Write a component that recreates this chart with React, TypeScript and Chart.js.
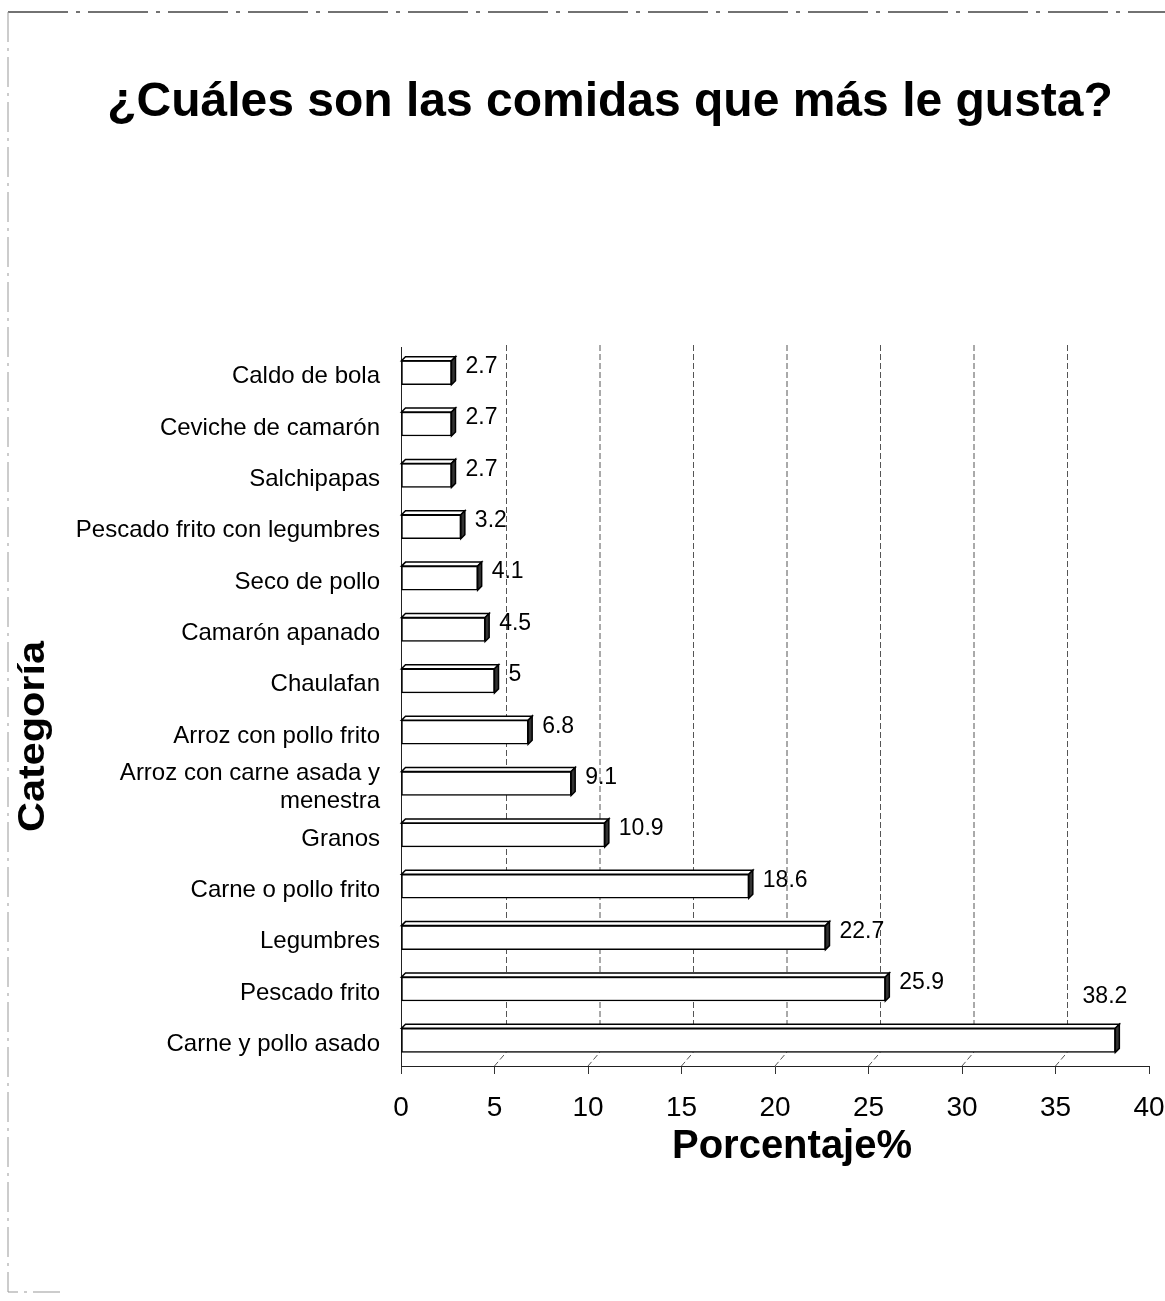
import React, { useEffect, useRef } from "react";
import { Chart, registerables } from "chart.js";

Chart.register(...registerables);

const categories: (string | string[])[] = [
  "Caldo de bola",
  "Ceviche de camarón",
  "Salchipapas",
  "Pescado frito con legumbres",
  "Seco de pollo",
  "Camarón apanado",
  "Chaulafan",
  "Arroz con pollo frito",
  ["Arroz con carne asada y", "menestra"],
  "Granos",
  "Carne o pollo frito",
  "Legumbres",
  "Pescado frito",
  "Carne y pollo asado",
];
const values = [2.7, 2.7, 2.7, 3.2, 4.1, 4.5, 5, 6.8, 9.1, 10.9, 18.6, 22.7, 25.9, 38.2];
const xTicks = [0, 5, 10, 15, 20, 25, 30, 35, 40];
const titleText = "¿Cuáles son las comidas que más le gusta?";
const xAxisTitle = "Porcentaje%";
const yAxisTitle = "Categoría";

const FONT = "Arial, 'Liberation Sans', Helvetica, sans-serif";
const DEPTH = 4;

const decorPlugin = {
  id: "decor",
  beforeDatasetsDraw(chart: any) {
    const { ctx, chartArea, scales } = chart;
    const x = scales.x;
    const dx = 12;
    const dy = 14;
    ctx.save();
    ctx.strokeStyle = "#555";
    ctx.lineWidth = 1;
    ctx.setLineDash([6, 3]);
    for (const v of xTicks) {
      if (v === xTicks[0] || v === xTicks[xTicks.length - 1]) continue;
      const px = x.getPixelForValue(v);
      ctx.beginPath();
      ctx.moveTo(px + dx, chartArea.top - 2);
      ctx.lineTo(px + dx, chartArea.bottom - dy);
      ctx.lineTo(px, chartArea.bottom);
      ctx.stroke();
    }
    ctx.restore();
  },
  afterDatasetsDraw(chart: any) {
    const { ctx, chartArea } = chart;
    const meta = chart.getDatasetMeta(0);
    ctx.save();
    meta.data.forEach((bar: any, i: number) => {
      const p = bar.getProps(["x", "y", "base", "height"], true);
      const xe = p.x;
      const base = p.base;
      const top = p.y - p.height / 2;
      const bottom = p.y + p.height / 2;
      ctx.setLineDash([]);
      ctx.lineWidth = 1.5;
      ctx.strokeStyle = "#000";
      // top face
      ctx.beginPath();
      ctx.moveTo(base, top);
      ctx.lineTo(base + DEPTH, top - DEPTH);
      ctx.lineTo(xe + DEPTH, top - DEPTH);
      ctx.lineTo(xe, top);
      ctx.closePath();
      ctx.fillStyle = "#fff";
      ctx.fill();
      ctx.stroke();
      // side face
      ctx.beginPath();
      ctx.moveTo(xe, top);
      ctx.lineTo(xe + DEPTH, top - DEPTH);
      ctx.lineTo(xe + DEPTH, bottom - DEPTH);
      ctx.lineTo(xe, bottom);
      ctx.closePath();
      ctx.fillStyle = "#333";
      ctx.fill();
      ctx.stroke();
      // value label
      const txt = String(values[i]);
      ctx.font = `23px ${FONT}`;
      ctx.fillStyle = "#000";
      ctx.textBaseline = "middle";
      ctx.textAlign = "left";
      const w = ctx.measureText(txt).width;
      let lx = xe + DEPTH + 10;
      let ly = p.y - 6;
      if (lx + w > chartArea.right) {
        lx = xe + DEPTH + 8 - w;
        ly = top - 32;
      }
      ctx.fillText(txt, lx, ly);
    });
    ctx.restore();
  },
  afterDraw(chart: any) {
    const { ctx, chartArea } = chart;
    ctx.save();
    ctx.fillStyle = "#000";
    // main title
    ctx.font = `bold 48px ${FONT}`;
    ctx.textAlign = "center";
    ctx.textBaseline = "alphabetic";
    ctx.fillText(titleText, 610, 116);
    // x axis title
    ctx.font = `bold 40px ${FONT}`;
    ctx.fillText(xAxisTitle, (chartArea.left + chartArea.right) / 2 + 17, 1158);
    // y axis title
    ctx.save();
    ctx.translate(44, (chartArea.top + chartArea.bottom) / 2 + 30);
    ctx.rotate(-Math.PI / 2);
    ctx.scale(1.15, 1);
    ctx.font = `bold 36px ${FONT}`;
    ctx.fillText(yAxisTitle, 0, 0);
    ctx.restore();
    // page border (scanned frame)
    ctx.strokeStyle = "#444";
    ctx.lineWidth = 1.5;
    ctx.setLineDash([60, 8, 4, 8]);
    ctx.beginPath();
    ctx.moveTo(8, 12);
    ctx.lineTo(1165, 12);
    ctx.stroke();
    ctx.strokeStyle = "#999";
    ctx.lineWidth = 1;
    ctx.setLineDash([30, 6, 3, 6]);
    ctx.beginPath();
    ctx.moveTo(8, 12);
    ctx.lineTo(8, 1292);
    ctx.lineTo(60, 1292);
    ctx.stroke();
    ctx.restore();
  },
};

export default function App() {
  const canvasRef = useRef<HTMLCanvasElement | null>(null);

  useEffect(() => {
    const canvas = canvasRef.current;
    if (!canvas) return;
    const chart = new Chart(canvas, {
      type: "bar",
      data: {
        labels: categories as any,
        datasets: [
          {
            data: values,
            backgroundColor: "#ffffff",
            borderColor: "#000000",
            borderWidth: 1.5,
            borderSkipped: false,
            barThickness: 24,
          },
        ],
      },
      options: {
        indexAxis: "y",
        responsive: false,
        animation: false,
        devicePixelRatio: 1,
        layout: { padding: { top: 347, right: 16, bottom: 0, left: 0 } },
        plugins: {
          legend: { display: false },
          tooltip: { enabled: false },
          title: { display: false },
        },
        scales: {
          x: {
            type: "linear",
            min: xTicks[0],
            max: xTicks[xTicks.length - 1],
            afterFit: (s: any) => {
              s.height = 235;
              s.paddingRight = 0;
              s.paddingLeft = 0;
            },
            afterBuildTicks: (s: any) => {
              s.ticks = xTicks.map((v) => ({ value: v }));
            },
            ticks: {
              font: { size: 28, family: FONT },
              color: "#000",
              padding: 17,
              maxRotation: 0,
              autoSkip: false,
            },
            grid: {
              display: true,
              drawOnChartArea: false,
              drawTicks: true,
              tickLength: 8,
              color: "#333",
            },
            border: { display: true, color: "#222", width: 1 },
          },
          y: {
            afterFit: (s: any) => {
              s.width = 401;
            },
            ticks: {
              font: { size: 24, family: FONT, lineHeight: 1.15 },
              color: "#000",
              padding: 13,
              autoSkip: false,
              labelOffset: 4,
            },
            grid: { display: false },
            border: { display: true, color: "#222", width: 1 },
          },
        },
      } as any,
      plugins: [decorPlugin],
    });
    return () => chart.destroy();
  }, []);

  return (
    <div style={{ position: "fixed", left: 0, top: 0, width: 1165, height: 1301, background: "#fff" }}>
      <canvas ref={canvasRef} width={1165} height={1301} style={{ display: "block" }} />
    </div>
  );
}
